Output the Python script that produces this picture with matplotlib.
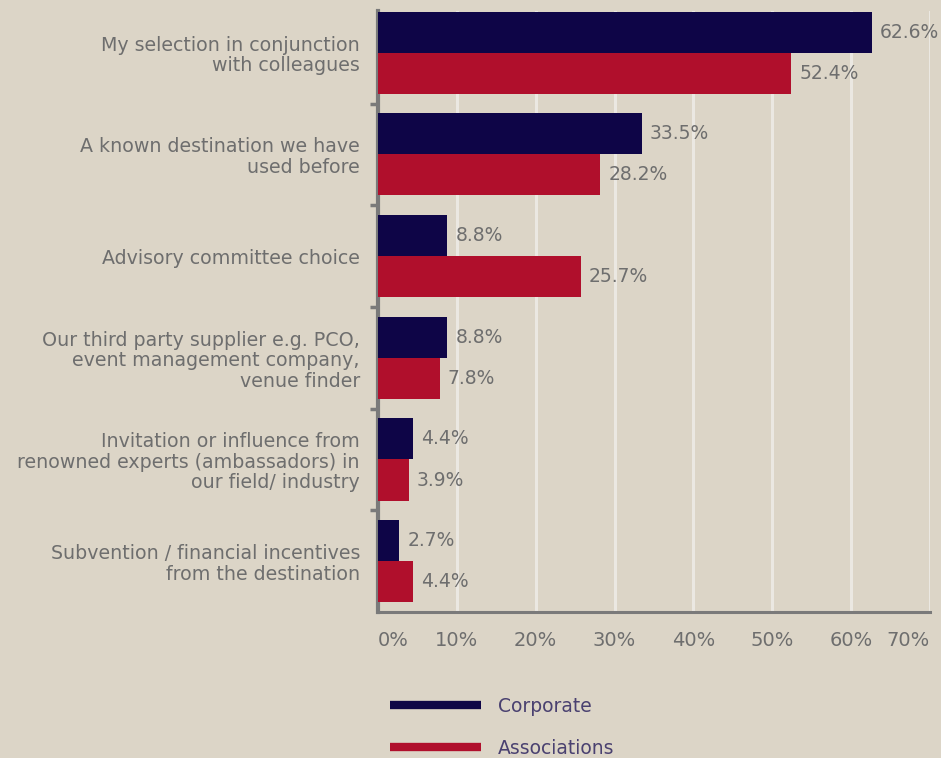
import numpy as np
import matplotlib
matplotlib.use("Agg")
import matplotlib.pyplot as plt
from matplotlib.lines import Line2D

categories = [
    "My selection in conjunction\nwith colleagues",
    "A known destination we have\nused before",
    "Advisory committee choice",
    "Our third party supplier e.g. PCO,\nevent management company,\nvenue finder",
    "Invitation or influence from\nrenowned experts (ambassadors) in\nour field/ industry",
    "Subvention / financial incentives\nfrom the destination",
]
corporate = [62.6, 33.5, 8.8, 8.8, 4.4, 2.7]
associations = [52.4, 28.2, 25.7, 7.8, 3.9, 4.4]
xticks = [0, 10, 20, 30, 40, 50, 60, 70]

BG = "#dcd5c7"
NAVY = "#0e0547"
RED = "#b00f2c"
GREY = "#6e6e6e"

plt.rcParams["font.family"] = "DejaVu Sans"

fig = plt.figure(figsize=(9.41, 7.58), dpi=100, facecolor=BG)
ax = fig.add_axes([378 / 941, 146 / 758, 552 / 941, 601 / 758], facecolor=BG)

y = np.arange(len(categories))
h = 0.404
ax.barh(y - h / 2, corporate, h, color=NAVY, zorder=3)
ax.barh(y + h / 2, associations, h, color=RED, zorder=3)

for yi, c, a in zip(y, corporate, associations):
    ax.text(c + 1.0, yi - h / 2, f"{c:.1f}%", va="center", ha="left",
            fontsize=13.5, color=GREY)
    ax.text(a + 1.0, yi + h / 2, f"{a:.1f}%", va="center", ha="left",
            fontsize=13.5, color=GREY)

ax.set_xlim(0, 70)
ax.set_ylim(5.5, -0.41)
ax.set_xticks(xticks)
ax.set_xticklabels([f"{t}%" for t in xticks], fontsize=14, color=GREY)
labs = ax.get_xticklabels()
labs[0].set_ha("left")
labs[-1].set_ha("right")
ax.tick_params(axis="x", length=0, pad=14)

# category labels sit between the boundary ticks
ax.set_yticks(y)
ax.set_yticklabels(categories, fontsize=13.7, color=GREY, linespacing=1.1)
ax.tick_params(axis="y", length=0, pad=13)
ax.set_yticks(np.arange(0.5, len(categories) - 1, 1.0), minor=True)
ax.tick_params(axis="y", which="minor", length=6, width=2.5, color="#7a7a7a")

ax.grid(axis="x", color="#ebe8e2", linewidth=2.2, zorder=0)
for s in ["top", "right"]:
    ax.spines[s].set_visible(False)
ax.spines["left"].set_color("#7a7a7a")
ax.spines["left"].set_linewidth(3)
ax.spines["bottom"].set_color("#7a7a7a")
ax.spines["bottom"].set_linewidth(2.2)

handles = [Line2D([], [], color=NAVY, lw=6, solid_capstyle="butt"),
           Line2D([], [], color=RED, lw=6, solid_capstyle="butt")]
fig.legend(handles, ["Corporate", "Associations"], loc="upper left",
           bbox_to_anchor=(390 / 941, 1 - 697 / 758), frameon=False,
           fontsize=13.5, handlelength=4.85, handletextpad=0.9,
           labelspacing=1.2, borderpad=0, borderaxespad=0,
           labelcolor="#4a4170")

fig.savefig("out.png", dpi=100, facecolor=BG)
